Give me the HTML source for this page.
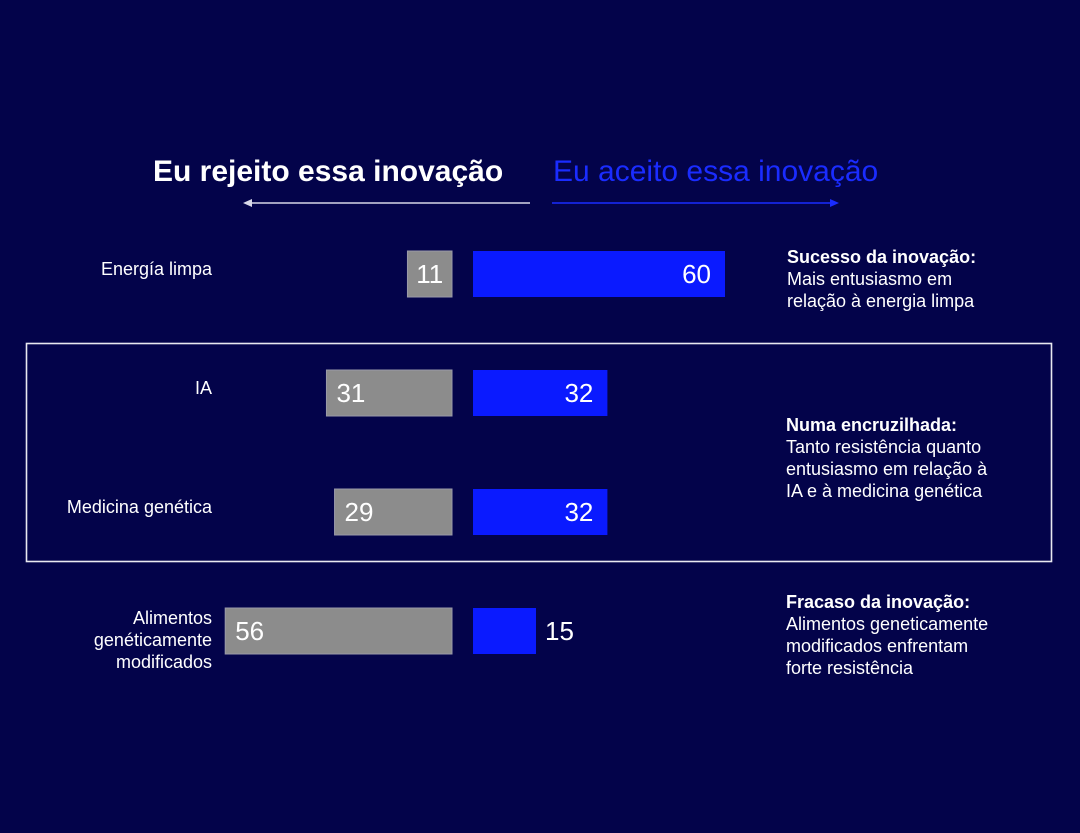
<!DOCTYPE html>
<html><head><meta charset="utf-8"><style>
html,body{margin:0;padding:0;background:#03034a;}
svg{display:block;font-family:"Liberation Sans",Arial,sans-serif;}
</style></head><body>
<svg id="chart" width="1080" height="833" viewBox="0 0 1080 833">
<rect x="0" y="0" width="1080" height="833" fill="#03034a"/>
<text x="153" y="181" font-size="30" font-weight="bold" fill="#ffffff">Eu rejeito essa inovação</text>
<text x="553" y="181" font-size="30" fill="#1a2cff">Eu aceito essa inovação</text>
<g>
<line x1="250" y1="203" x2="530" y2="203" stroke="#d8d8e8" stroke-width="1.5"/>
<polygon points="243,203 252,199 252,207" fill="#d8d8e8"/>
</g>
<g>
<line x1="552" y1="203" x2="832" y2="203" stroke="#1a2cff" stroke-width="1.5"/>
<polygon points="839,203 830,199 830,207" fill="#1a2cff"/>
</g>
<rect x="26.5" y="343.5" width="1025" height="218" fill="none" stroke="#e8e8f0" stroke-width="1.6"/>
<g id="bars"></g>
<g font-size="18" fill="#ffffff">
<text x="787" y="263" font-weight="bold">Sucesso da inovação:</text>
<text x="787" y="285">Mais entusiasmo em</text>
<text x="787" y="307">relação à energia limpa</text>
</g>
<g font-size="18" fill="#ffffff">
<text x="786" y="431" font-weight="bold">Numa encruzilhada:</text>
<text x="786" y="453">Tanto resistência quanto</text>
<text x="786" y="475">entusiasmo em relação à</text>
<text x="786" y="497">IA e à medicina genética</text>
</g>
<g font-size="18" fill="#ffffff">
<text x="786" y="608" font-weight="bold">Fracaso da inovação:</text>
<text x="786" y="630">Alimentos geneticamente</text>
<text x="786" y="652">modificados enfrentam</text>
<text x="786" y="674">forte resistência</text>
</g>
</svg>
<script>
const categories = [["Energía limpa"], ["IA"], ["Medicina genética"], ["Alimentos", "genéticamente", "modificados"]];
const rejectValues = [11, 31, 29, 56];
const acceptValues = [60, 32, 32, 15];

const NS = "http://www.w3.org/2000/svg";
const g = document.getElementById("bars");
const rowCenters = [274, 393, 512, 631];
const barH = 46;
const rejEnd = 452, accStart = 473;
const rejScale = 4.05, accScale = 4.2;
function xRej(v){ return rejEnd - v * rejScale; }
function xAcc(v){ return accStart + v * accScale; }
function mk(tag, attrs){ const e = document.createElementNS(NS, tag); for (const k in attrs) e.setAttribute(k, attrs[k]); return e; }

categories.forEach((lines, i) => {
  const cy = rowCenters[i];
  const lab = mk("text", {x: 212, "text-anchor": "end", "font-size": 18, fill: "#ffffff"});
  
  
  const startY = cy + 7 - (lines.length - 1) * 22 / 2 + (lines.length > 1 ? 0 : 0);
  lines.forEach((t, j) => {
    const ts = mk("tspan", {x: 212, y: (lines.length > 1 ? cy - 7 + j * 22 : cy + 1)});
    ts.textContent = t;
    lab.appendChild(ts);
  });
  g.appendChild(lab);

  const rv = rejectValues[i];
  const rx = xRej(rv);
  const rb = mk("rect", {x: rx, y: cy - barH/2, width: rejEnd - rx, height: barH, fill: "#8c8c8c", stroke: "#9a9aa8", "stroke-width": 1});
  
  
  g.appendChild(rb);
  const rw = rejEnd - rx;
  const rt = mk("text", {y: cy + 9, "font-size": 26, fill: "#ffffff"});
  if (rw < 60) { rt.setAttribute("x", rx + rw/2); rt.setAttribute("text-anchor", "middle"); }
  else { rt.setAttribute("x", rx + 10); }
  rt.textContent = rv;
  
  
  g.appendChild(rt);

  const av = acceptValues[i];
  const ax = xAcc(av);
  const ab = mk("rect", {x: accStart, y: cy - barH/2, width: ax - accStart, height: barH, fill: "#0a1aff"});
  
  
  g.appendChild(ab);
  const aw = ax - accStart;
  const at = mk("text", {y: cy + 9, "font-size": 26, fill: "#ffffff"});
  if (aw < 80) { at.setAttribute("x", ax + 9); }
  else { at.setAttribute("x", ax - 14); at.setAttribute("text-anchor", "end"); }
  at.textContent = av;
  
  
  g.appendChild(at);
});
</script>
</body></html>
